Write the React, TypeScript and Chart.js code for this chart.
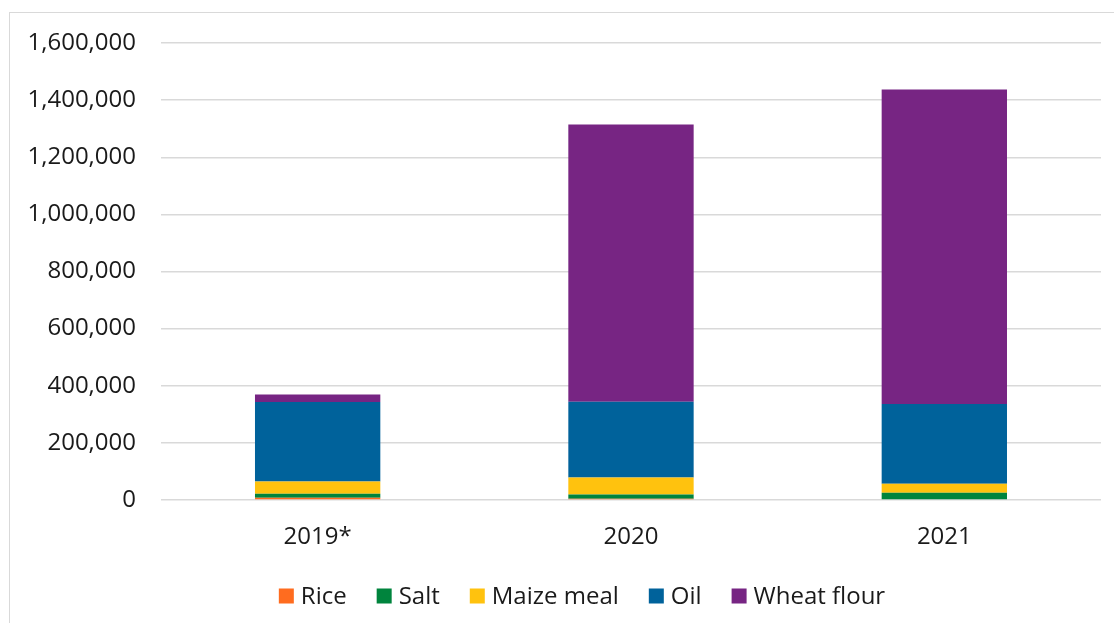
import React, { useEffect, useRef } from "react";
import { Chart, registerables } from "chart.js";

Chart.register(...registerables);

const categories = ["2019*", "2020", "2021"];
const rice = [8000, 4000, 3000];
const salt = [14000, 15000, 22000];
const maizeMeal = [43000, 60000, 32000];
const oil = [278000, 265000, 279000];
const wheatFlour = [26000, 971000, 1101000];

const seriesNames = ["Rice", "Salt", "Maize meal", "Oil", "Wheat flour"];
const seriesColors = ["#FF6C1F", "#00843D", "#FFC20E", "#00629B", "#772583"];

const FONT_FAMILY = "'Open Sans', sans-serif";
const FONT_SIZE = 24;
const TEXT_COLOR = "#1a1a1a";

const customLegend = {
  id: "customLegend",
  afterDraw(chart: any) {
    const ctx = chart.ctx as CanvasRenderingContext2D;
    const box = 15;
    const textGap = 7;
    const itemGap = 30;
    const centerY = 596;
    const centerX = 582;
    ctx.save();
    ctx.font = `${FONT_SIZE}px ${FONT_FAMILY}`;
    ctx.textBaseline = "middle";
    ctx.textAlign = "left";
    const items = chart.data.datasets.map((ds: any) => ({
      label: ds.label as string,
      color: ds.backgroundColor as string,
      w: ctx.measureText(ds.label).width,
    }));
    const total =
      items.reduce((s: number, it: any) => s + box + textGap + it.w, 0) + itemGap * (items.length - 1);
    let x = centerX - total / 2;
    for (const it of items) {
      ctx.fillStyle = it.color;
      ctx.fillRect(x, centerY - box / 2, box, box);
      ctx.fillStyle = TEXT_COLOR;
      ctx.fillText(it.label, x + box + textGap, centerY + 1);
      x += box + textGap + it.w + itemGap;
    }
    ctx.restore();
  },
};

export default function App() {
  const ref = useRef<HTMLCanvasElement | null>(null);

  useEffect(() => {
    if (!ref.current) return;
    const values = [rice, salt, maizeMeal, oil, wheatFlour];
    const font = { family: FONT_FAMILY, size: FONT_SIZE };
    const chart = new Chart(ref.current, {
      type: "bar",
      data: {
        labels: categories,
        datasets: values.map((v, i) => ({
          label: seriesNames[i],
          data: v,
          backgroundColor: seriesColors[i],
          borderWidth: 0,
          barPercentage: 0.4,
          categoryPercentage: 1,
        })),
      },
      options: {
        animation: false,
        responsive: false,
        layout: { padding: { left: 2.5, right: 13, top: 43, bottom: 57 } },
        plugins: {
          tooltip: { enabled: false },
          legend: { display: false },
        },
        scales: {
          x: {
            stacked: true,
            grid: { display: false },
            border: { display: false },
            ticks: { color: TEXT_COLOR, font, padding: 14.6 },
          },
          y: {
            stacked: true,
            min: 0,
            max: 1600000,
            border: { display: false },
            grid: { color: "#d9d9d9", lineWidth: 1.5, drawTicks: false },
            ticks: {
              stepSize: 200000,
              color: TEXT_COLOR,
              font,
              padding: 25,
              callback: (v: any) => Number(v).toLocaleString("en-US"),
            },
          },
        },
      },
      plugins: [customLegend],
    });
    return () => chart.destroy();
  }, []);

  return (
    <div style={{ position: "fixed", left: 0, top: 0, width: 1114, height: 623, background: "#fff", overflow: "hidden" }}>
      <div
        style={{
          position: "absolute",
          left: 9,
          top: 12,
          width: 1200,
          height: 700,
          borderLeft: "1.5px solid #d9d9d9",
          borderTop: "1.5px solid #d9d9d9",
        }}
      />
      <canvas ref={ref} width={1114} height={623} style={{ position: "absolute", left: 0, top: 0, width: 1114, height: 623 }} />
    </div>
  );
}
